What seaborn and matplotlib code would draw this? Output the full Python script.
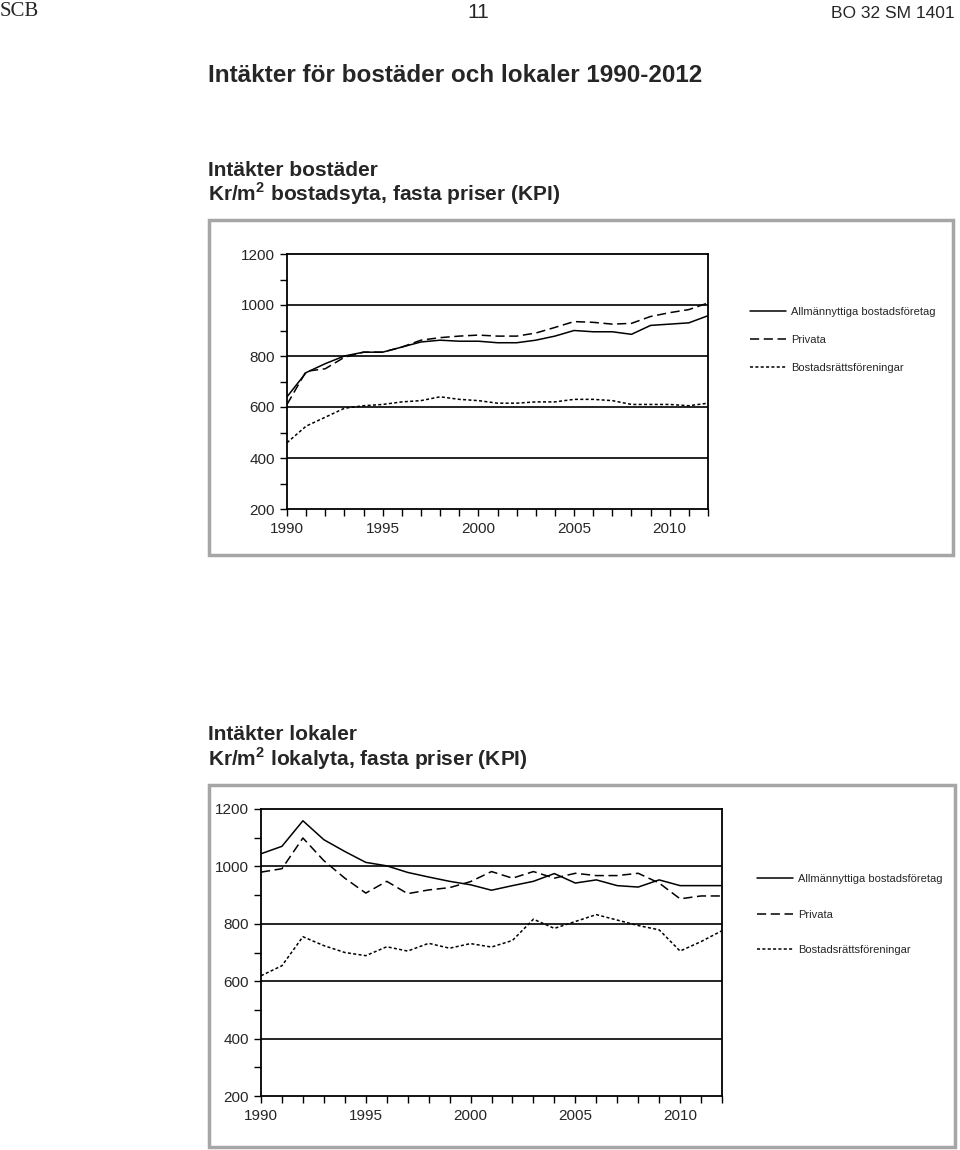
import numpy as np
import pandas as pd
import matplotlib
matplotlib.use("Agg")
import matplotlib.pyplot as plt
import seaborn as sns
from matplotlib.patches import Rectangle
from matplotlib.ticker import MultipleLocator

# --- data ---
years = list(range(1990, 2013))
series_names = ["Allmännyttiga bostadsföretag", "Privata", "Bostadsrättsföreningar"]

# Intäkter bostäder, kr/m2 bostadsyta
bost_allm = [640, 735, 770, 800, 815, 815, 835, 855, 862, 858, 858, 852,
             852, 862, 878, 900, 895, 895, 885, 920, 925, 930, 958]
bost_priv = [610, 740, 750, 795, 815, 815, 835, 862, 872, 878, 882, 878,
             878, 890, 912, 935, 932, 925, 928, 955, 970, 982, 1008]
bost_brf = [460, 525, 560, 595, 605, 610, 620, 625, 640, 630, 625, 615,
            615, 620, 620, 630, 630, 625, 610, 610, 610, 605, 615]

# Intäkter lokaler, kr/m2 lokalyta
lok_allm = [1044, 1070, 1159, 1093, 1052, 1014, 1002, 979, 963, 948, 936, 917,
            933, 948, 975, 942, 953, 933, 928, 953, 933, 933, 933]
lok_priv = [980, 992, 1099, 1020, 959, 907, 948, 905, 918, 926, 947, 982,
            959, 982, 959, 976, 968, 968, 976, 942, 887, 897, 897]
lok_brf = [619, 654, 755, 724, 700, 689, 720, 705, 732, 715, 731, 719,
           742, 816, 784, 808, 832, 813, 794, 779, 705, 738, 776]

line_styles = ["-", (0, (6, 3)), (0, (2, 1.5))]

sns.set_style("white")
plt.rcParams["font.family"] = ["Liberation Sans", "DejaVu Sans"]

fig = plt.figure(figsize=(9.6, 11.5), dpi=100)
W, H = 960, 1150


def fx(px):
    return px / W


def fy(py):
    return 1 - py / H


# page header
fig.text(fx(0), fy(12), "SCB", family=["Liberation Serif"], fontsize=15, va="center", ha="left")
fig.text(fx(478), fy(12), "11", fontsize=15, va="center", ha="center")
fig.text(fx(955), fy(13), "BO 32 SM 1401", fontsize=12.5, va="center", ha="right")

fig.text(fx(208), fy(75), "Intäkter för bostäder och lokaler 1990-2012",
         fontsize=17.5, weight="bold", va="center", ha="left")

fig.text(fx(208), fy(170), "Intäkter bostäder", fontsize=15, weight="bold", va="center")
fig.text(fx(208), fy(194), r"Kr/m$^{\mathdefault{2}}$ bostadsyta, fasta priser (KPI)",
         fontsize=15, weight="bold", va="center")
fig.text(fx(208), fy(735), "Intäkter lokaler", fontsize=15, weight="bold", va="center")
fig.text(fx(208), fy(759), r"Kr/m$^{\mathdefault{2}}$ lokalyta, fasta priser (KPI)",
         fontsize=15, weight="bold", va="center")


def draw_chart(box, axbox, legend_pos, values, labelspacing):
    bx0, by0, bx1, by1 = box
    fig.patches.append(Rectangle((fx(bx0), fy(by1)), fx(bx1 - bx0), (by1 - by0) / H,
                                 transform=fig.transFigure, fill=False,
                                 edgecolor="#a6a6a6", linewidth=2.5))
    ax0, ay0, ax1, ay1 = axbox
    ax = fig.add_axes([fx(ax0), fy(ay1), fx(ax1 - ax0), (ay1 - ay0) / H])
    df = pd.DataFrame({"År": years * 3,
                       "value": values[0] + values[1] + values[2],
                       "serie": sum([[n] * len(years) for n in series_names], [])})
    for name, ls in zip(series_names, line_styles):
        sns.lineplot(data=df[df["serie"] == name], x="År", y="value", ax=ax,
                     color="black", linewidth=1.1, linestyle=ls, label=name)
    for g in [400, 600, 800, 1000]:
        ax.axhline(g, color="black", linewidth=1.2, zorder=0)
    ax.set_xlim(1990, 2012)
    ax.set_ylim(200, 1200)
    ax.set_xticks([1990, 1995, 2000, 2005, 2010])
    ax.xaxis.set_minor_locator(MultipleLocator(1))
    ax.yaxis.set_major_locator(MultipleLocator(200))
    ax.yaxis.set_minor_locator(MultipleLocator(100))
    ax.tick_params(axis="both", which="both", direction="out", color="black",
                   bottom=True, left=True, labelsize=11)
    ax.tick_params(which="major", length=5, width=1)
    ax.tick_params(which="minor", length=5, width=1)
    ax.tick_params(axis="x", pad=4)
    ax.set_xlabel("")
    ax.set_ylabel("")
    for sp in ax.spines.values():
        sp.set_visible(True)
        sp.set_color("black")
        sp.set_linewidth(1.3)
    ax.legend(loc="upper left", bbox_to_anchor=(fx(legend_pos[0]), fy(legend_pos[1])),
              bbox_transform=fig.transFigure, frameon=False, fontsize=8,
              handlelength=3.2, handletextpad=0.5, labelspacing=labelspacing,
              borderpad=0, borderaxespad=0)
    return ax


draw_chart((209, 220, 953, 555), (287, 254, 708, 509), (750, 307),
           [bost_allm, bost_priv, bost_brf], 1.6)
draw_chart((209, 785, 955, 1147), (261, 809, 722, 1096), (757, 874),
           [lok_allm, lok_priv, lok_brf], 2.3)

fig.savefig("out.png", dpi=100)
